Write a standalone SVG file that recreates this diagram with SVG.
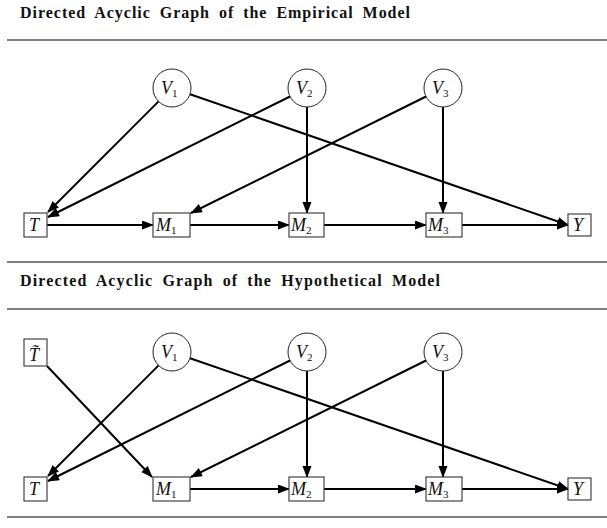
<svg xmlns="http://www.w3.org/2000/svg" width="607" height="528" viewBox="0 0 607 528">
<style>
.title{font-family:"Liberation Serif",serif;font-weight:bold;font-size:16px;fill:#111;word-spacing:4px}
.sep{stroke:#555;stroke-width:1.6}
.box{fill:#fff;stroke:#444;stroke-width:1.2}
.circ{fill:#fff;stroke:#222;stroke-width:1}
.lbl{font-family:"Liberation Serif",serif;font-style:italic;font-size:18px;fill:#111}
.sub{font-style:normal;font-size:11px}
.edge{stroke:#000;stroke-width:2;fill:none;marker-end:url(#ah)}
</style>
<defs>
<marker id="ah" markerUnits="userSpaceOnUse" markerWidth="12" markerHeight="10" refX="11" refY="4.5" orient="auto">
<path d="M0,0 L12,4.5 L0,9 z" fill="#000"/>
</marker>
</defs>
<rect width="607" height="528" fill="#fff"/>
<text class="title" x="20" y="18" textLength="390" lengthAdjust="spacing">Directed Acyclic Graph of the Empirical Model</text>
<line class="sep" x1="7" y1="40" x2="607" y2="40"/>
<line class="sep" x1="7" y1="262" x2="607" y2="262"/>
<text class="title" x="20" y="286" textLength="420" lengthAdjust="spacing">Directed Acyclic Graph of the Hypothetical Model</text>
<line class="sep" x1="7" y1="309" x2="607" y2="309"/>
<line class="sep" x1="7" y1="517" x2="607" y2="517"/>

<g id="edges1">
<line class="edge" x1="158.6" y1="101.4" x2="48" y2="212"/>
<line class="edge" x1="290" y1="96.5" x2="48" y2="217"/>
<line class="edge" x1="426" y1="96.5" x2="191" y2="213"/>
<line class="edge" x1="307" y1="107" x2="307" y2="213"/>
<line class="edge" x1="443" y1="107" x2="443" y2="213"/>
<line class="edge" x1="190" y1="94.2" x2="568" y2="225"/>
<line class="edge" x1="47" y1="225" x2="153" y2="225"/>
<line class="edge" x1="190" y1="225" x2="289" y2="225"/>
<line class="edge" x1="324" y1="225" x2="426" y2="225"/>
<line class="edge" x1="462" y1="225" x2="568" y2="225"/>
</g>

<g id="E_V1"><circle class="circ" cx="172" cy="88" r="19"/><text class="lbl" x="161" y="94">V<tspan class="sub" dy="3">1</tspan></text></g>
<g id="E_V2"><circle class="circ" cx="307" cy="88" r="19"/><text class="lbl" x="296" y="94">V<tspan class="sub" dy="3">2</tspan></text></g>
<g id="E_V3"><circle class="circ" cx="443" cy="88" r="19"/><text class="lbl" x="432" y="94">V<tspan class="sub" dy="3">3</tspan></text></g>
<g id="E_T"><rect class="box" x="24" y="213" width="23" height="24"/><text class="lbl" x="29" y="231">T</text></g>
<g id="E_M1"><rect class="box" x="153" y="213" width="37" height="24"/><text class="lbl" x="156" y="231">M<tspan class="sub" dy="3">1</tspan></text></g>
<g id="E_M2"><rect class="box" x="289" y="213" width="35" height="24"/><text class="lbl" x="291" y="231">M<tspan class="sub" dy="3">2</tspan></text></g>
<g id="E_M3"><rect class="box" x="426" y="213" width="36" height="24"/><text class="lbl" x="428" y="231">M<tspan class="sub" dy="3">3</tspan></text></g>
<g id="E_Y"><rect class="box" x="568" y="214" width="23" height="22"/><text class="lbl" x="573" y="231">Y</text></g>

<g id="edges2">
<line class="edge" x1="47" y1="366" x2="152" y2="477"/>
<line class="edge" x1="158.6" y1="365.4" x2="48" y2="476"/>
<line class="edge" x1="290" y1="360.5" x2="48" y2="481"/>
<line class="edge" x1="426" y1="360.5" x2="191" y2="477"/>
<line class="edge" x1="307" y1="371" x2="307" y2="477"/>
<line class="edge" x1="443" y1="371" x2="443" y2="477"/>
<line class="edge" x1="190" y1="358.2" x2="568" y2="489"/>
<line class="edge" x1="190" y1="489" x2="289" y2="489"/>
<line class="edge" x1="324" y1="489" x2="426" y2="489"/>
<line class="edge" x1="462" y1="489" x2="568" y2="489"/>
</g>

<g id="H_Tt"><rect class="box" x="24" y="339" width="23" height="27"/><text class="lbl" x="29" y="361">T&#x303;</text></g>
<g id="H_V1"><circle class="circ" cx="172" cy="352" r="19"/><text class="lbl" x="161" y="358">V<tspan class="sub" dy="3">1</tspan></text></g>
<g id="H_V2"><circle class="circ" cx="307" cy="352" r="19"/><text class="lbl" x="296" y="358">V<tspan class="sub" dy="3">2</tspan></text></g>
<g id="H_V3"><circle class="circ" cx="443" cy="352" r="19"/><text class="lbl" x="432" y="358">V<tspan class="sub" dy="3">3</tspan></text></g>
<g id="H_T"><rect class="box" x="24" y="477" width="23" height="24"/><text class="lbl" x="29" y="495">T</text></g>
<g id="H_M1"><rect class="box" x="153" y="477" width="37" height="24"/><text class="lbl" x="156" y="495">M<tspan class="sub" dy="3">1</tspan></text></g>
<g id="H_M2"><rect class="box" x="289" y="477" width="35" height="24"/><text class="lbl" x="291" y="495">M<tspan class="sub" dy="3">2</tspan></text></g>
<g id="H_M3"><rect class="box" x="426" y="477" width="36" height="24"/><text class="lbl" x="428" y="495">M<tspan class="sub" dy="3">3</tspan></text></g>
<g id="H_Y"><rect class="box" x="568" y="478" width="23" height="22"/><text class="lbl" x="573" y="495">Y</text></g>
</svg>
